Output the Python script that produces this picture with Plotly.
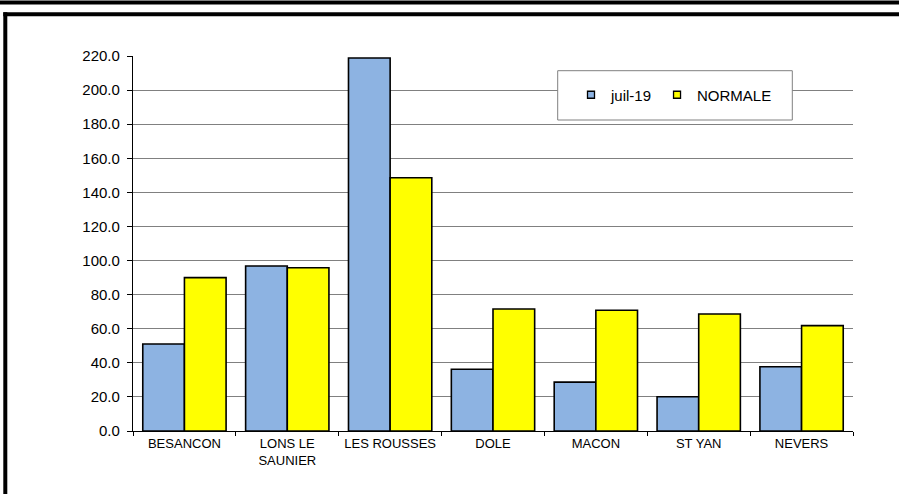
import plotly.graph_objects as go

# Monthly rainfall by station (mm): July 2019 vs normal
stations = ["BESANCON", "LONS LE<br>SAUNIER", "LES ROUSSES", "DOLE", "MACON", "ST YAN", "NEVERS"]
juil_19 = [51.0, 96.8, 218.8, 36.2, 28.7, 20.1, 37.7]
normale = [90.0, 95.8, 148.6, 71.6, 70.8, 68.6, 61.8]

y_ticks = [0, 20, 40, 60, 80, 100, 120, 140, 160, 180, 200, 220]

BLUE = "#8DB3E2"
YELLOW = "#FFFF00"
FONT = "Liberation Sans, Arial, sans-serif"

W, H = 899, 494
L, R, T, B = 133, 46, 56, 63
PW, PH = W - L - R, H - T - B


def px_x(x):
    return (x - L) / PW


def px_y(y):
    return (H - B - y) / PH


fig = go.Figure()
fig.add_trace(go.Bar(x=stations, y=juil_19, name="juil-19", showlegend=False,
                     marker=dict(color=BLUE, line=dict(color="black", width=1.6))))
fig.add_trace(go.Bar(x=stations, y=normale, name="NORMALE", showlegend=False,
                     marker=dict(color=YELLOW, line=dict(color="black", width=1.6))))

# Legend entries with small square swatches
for name, col in (("juil-19", BLUE), ("NORMALE", YELLOW)):
    fig.add_trace(go.Scatter(x=[None], y=[None], mode="markers", name=name,
                             marker=dict(symbol="square", size=7, color=col,
                                         line=dict(color="black", width=1.3))))

shapes = [
    # legend frame
    dict(type="rect", xref="paper", yref="paper",
         x0=px_x(557.7), x1=px_x(792.3), y0=px_y(120), y1=px_y(70.7),
         line=dict(color="#808080", width=1), fillcolor="white", layer="above"),
    # outer frame lines
    dict(type="line", xref="paper", yref="paper",
         x0=px_x(-5), x1=px_x(905), y0=px_y(2.5), y1=px_y(2.5),
         line=dict(color="black", width=4)),
    dict(type="line", xref="paper", yref="paper",
         x0=px_x(3.3), x1=px_x(905), y0=px_y(14.3), y1=px_y(14.3),
         line=dict(color="black", width=4)),
    dict(type="line", xref="paper", yref="paper",
         x0=px_x(5.3), x1=px_x(5.3), y0=px_y(12.3), y1=px_y(500),
         line=dict(color="black", width=4)),
]

fig.update_layout(
    width=W, height=H,
    margin=dict(l=L, r=R, t=T, b=B),
    paper_bgcolor="white", plot_bgcolor="white",
    font=dict(family=FONT, color="black"),
    barmode="group", bargap=0.19, bargroupgap=0,
    shapes=shapes,
    legend=dict(orientation="h", x=px_x(571), y=px_y(95), xanchor="left", yanchor="middle",
                bgcolor="rgba(0,0,0,0)", borderwidth=0,
                font=dict(family=FONT, size=15, color="black"),
                itemwidth=30),
    xaxis=dict(showline=True, linecolor="black", linewidth=1,
               ticks="outside", tickson="boundaries", ticklen=4, tickcolor="black",
               tickfont=dict(family=FONT, size=13, color="black"),
               showgrid=False, fixedrange=True),
    yaxis=dict(range=[0, 220], tickvals=y_ticks, tickformat=".1f",
               showline=True, linecolor="black", linewidth=1.3,
               ticks="outside", ticklen=5, tickcolor="black",
               showgrid=True, gridcolor="#808080", gridwidth=1,
               zeroline=False, ticklabelstandoff=4,
               tickfont=dict(family=FONT, size=15, color="black"),
               fixedrange=True),
)

fig.write_html("out.html")
